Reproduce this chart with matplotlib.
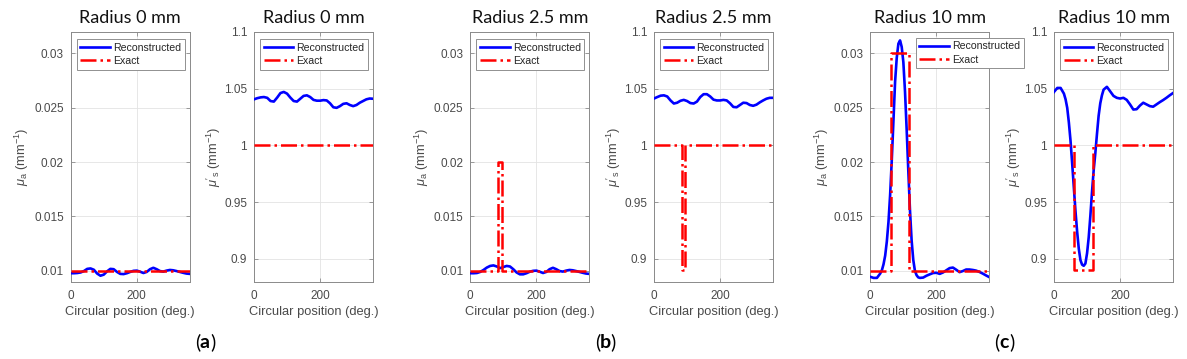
import matplotlib
matplotlib.use("Agg")
import matplotlib.pyplot as plt

plt.rcParams["mathtext.fontset"] = "custom"
plt.rcParams["mathtext.rm"] = "Liberation Sans"
plt.rcParams["mathtext.it"] = "Liberation Sans:italic"
plt.rcParams["mathtext.bf"] = "Liberation Sans:bold"

# ---------------- data ----------------
deg_coarse = list(range(0, 361, 10))
deg_fine = [0, 10, 20] + list(range(30, 151, 5)) + list(range(160, 361, 10))

# (a) radius 0 mm
mua_rec_a = [0.00978, 0.00978, 0.00980, 0.00985, 0.00998, 0.01018, 0.01022, 0.01010, 0.00975, 0.00955,
             0.00965, 0.00995, 0.01018, 0.01015, 0.00990, 0.00972, 0.00970, 0.00978, 0.00990, 0.01000,
             0.01002, 0.00992, 0.00980, 0.00990, 0.01015, 0.01028, 0.01015, 0.00998, 0.00993, 0.01002,
             0.01008, 0.01005, 0.00998, 0.00990, 0.00982, 0.00975, 0.00972]
mus_rec_a = [1.0405, 1.0415, 1.0422, 1.0425, 1.0418, 1.0390, 1.0385, 1.0420, 1.0460, 1.0470,
             1.0455, 1.0420, 1.0390, 1.0385, 1.0410, 1.0435, 1.0440, 1.0425, 1.0400, 1.0393,
             1.0393, 1.0398, 1.0395, 1.0370, 1.0335, 1.0330, 1.0345, 1.0365, 1.0370, 1.0355,
             1.0345, 1.0355, 1.0375, 1.0390, 1.0405, 1.0412, 1.0410]
exact_x_a = [0, 360]
mua_exact_a = [0.01, 0.01]
mus_exact_a = [1.0, 1.0]

# (b) radius 2.5 mm
mua_rec_b = [0.00978, 0.00978, 0.00980, 0.00990, 0.01008, 0.01030, 0.01045, 0.01050, 0.01040, 0.01025,
             0.01035, 0.01045, 0.01040, 0.01015, 0.00985, 0.00968, 0.00968, 0.00978, 0.00992, 0.01000,
             0.01002, 0.00992, 0.00980, 0.00990, 0.01015, 0.01028, 0.01015, 0.00998, 0.00993, 0.01002,
             0.01008, 0.01005, 0.00998, 0.00990, 0.00982, 0.00975, 0.00972]
mus_rec_b = [1.0412, 1.0425, 1.0437, 1.0440, 1.0430, 1.0395, 1.0368, 1.0375, 1.0392, 1.0400,
             1.0390, 1.0372, 1.0368, 1.0385, 1.0425, 1.0450, 1.0450, 1.0430, 1.0402, 1.0395,
             1.0395, 1.0400, 1.0395, 1.0370, 1.0338, 1.0335, 1.0355, 1.0375, 1.0372, 1.0355,
             1.0348, 1.0358, 1.0378, 1.0395, 1.0410, 1.0418, 1.0418]
exact_x_b = [0, 85, 85, 95, 95, 360]
mua_exact_b = [0.01, 0.01, 0.02, 0.02, 0.01, 0.01]
mus_exact_b = [1.0, 1.0, 0.89, 0.89, 1.0, 1.0]

# (c) radius 10 mm
mua_rec_c = [0.00945, 0.00935, 0.00935,
             0.00975, 0.01005, 0.01060, 0.01140, 0.01270, 0.01450, 0.01700, 0.02020, 0.02380, 0.02740,
             0.02960, 0.03090, 0.03120, 0.03060, 0.02920, 0.02650, 0.02300, 0.01920, 0.01560, 0.01280,
             0.01100, 0.01000, 0.00960, 0.00940, 0.00935,
             0.00938, 0.00955, 0.00968, 0.00980, 0.00982, 0.00972, 0.00985, 0.01005, 0.01025, 0.01030,
             0.01010, 0.00988, 0.00998, 0.01012, 0.01012, 0.01008, 0.01002, 0.00990, 0.00975, 0.00958,
             0.00942]
mus_rec_c = [1.0470, 1.0505, 1.0505,
             1.0455, 1.0405, 1.0330, 1.0200, 1.0040, 0.9840, 0.9630, 0.9420, 0.9240, 0.9090,
             0.8990, 0.8950, 0.8940, 0.8960, 0.9050, 0.9190, 0.9380, 0.9590, 0.9780, 0.9930,
             1.0100, 1.0260, 1.0370, 1.0440, 1.0490,
             1.0515, 1.0475, 1.0435, 1.0418, 1.0412, 1.0418, 1.0400, 1.0360, 1.0315, 1.0318,
             1.0350, 1.0375, 1.0360, 1.0345, 1.0340, 1.0360, 1.0380, 1.0398, 1.0418, 1.0440,
             1.0460]
exact_x_c = [0, 62, 62, 117, 117, 360]
mua_exact_c = [0.01, 0.01, 0.03, 0.03, 0.01, 0.01]
mus_exact_c = [1.0, 1.0, 0.89, 0.89, 1.0, 1.0]

titles = ["Radius 0 mm", "Radius 0 mm", "Radius 2.5 mm", "Radius 2.5 mm", "Radius 10 mm", "Radius 10 mm"]
mua_ticks = [0.01, 0.015, 0.02, 0.025, 0.03]
mua_ticklabels = ["0.01", "0.015", "0.02", "0.025", "0.03"]
mus_ticks = [0.9, 0.95, 1.0, 1.05, 1.1]
mus_ticklabels = ["0.9", "0.95", "1", "1.05", "1.1"]
x_ticks = [0, 200]
panel_letters = ["a", "b", "c"]

# ---------------- figure ----------------
W, H = 1187, 359
fig = plt.figure(figsize=(W / 100, H / 100), dpi=100)
fig.patch.set_facecolor("white")

lefts = [70.7, 254, 470.3, 654, 870.3, 1054]
ax_w, ax_top, ax_bot = 119, 31.7, 281.7
ax_h = ax_bot - ax_top

panels = [
    (deg_coarse, mua_rec_a, exact_x_a, mua_exact_a, "mua"),
    (deg_coarse, mus_rec_a, exact_x_a, mus_exact_a, "mus"),
    (deg_coarse, mua_rec_b, exact_x_b, mua_exact_b, "mua"),
    (deg_coarse, mus_rec_b, exact_x_b, mus_exact_b, "mus"),
    (deg_fine, mua_rec_c, exact_x_c, mua_exact_c, "mua"),
    (deg_fine, mus_rec_c, exact_x_c, mus_exact_c, "mus"),
]

tick_color = "#4a4a4a"
spine_color = "#8a8a8a"
grid_color = "#e3e3e3"
label_font = "Liberation Sans"
title_font = "Lato"

for i, (xr, yr, xe, ye, kind) in enumerate(panels):
    l = lefts[i]
    ax = fig.add_axes([l / W, (H - ax_bot) / H, ax_w / W, ax_h / H])
    ax.plot(xr, yr, color="#0000ff", lw=1.9, label="Reconstructed", zorder=3)
    ax.plot(xe, ye, color="#ff0000", lw=1.8, ls="-.", label="Exact", zorder=4)
    ax.set_xlim(0, 360)
    ax.set_xticks(x_ticks)
    if kind == "mua":
        ax.set_ylim(0.009, 0.032)
        ax.set_yticks(mua_ticks)
        ax.set_yticklabels(mua_ticklabels)
        ylab = r"$\mu_{\mathrm{a}}$ (mm$^{-1}$)"
        ylab_x = -48.5 / ax_w
    else:
        ax.set_ylim(0.88, 1.1)
        ax.set_yticks(mus_ticks)
        ax.set_yticklabels(mus_ticklabels)
        ylab = r"$\mu'_{\mathrm{s}}$ (mm$^{-1}$)"
        ylab_x = -40.5 / ax_w
    ax.grid(True, color=grid_color, lw=0.6, zorder=0)
    ax.set_axisbelow(True)
    for s in ax.spines.values():
        s.set_color(spine_color)
        s.set_linewidth(0.7)
    ax.tick_params(direction="in", length=3, width=0.6, color=spine_color,
                   top=True, right=True, labelsize=8.5, labelcolor=tick_color, pad=5)
    for t in ax.get_xticklabels() + ax.get_yticklabels():
        t.set_fontfamily(label_font)
        t.set_fontweight("normal")
    ax.tick_params(axis="x", pad=6)
    ax.text(0.5, -(311.7 - ax_bot) / ax_h, "Circular position (deg.)",
            transform=ax.transAxes, ha="center", va="center", fontsize=9.3,
            color=tick_color, family=label_font, fontweight="normal")
    ax.text(ylab_x, 0.5, ylab, transform=ax.transAxes, rotation=90, ha="center",
            va="center", fontsize=9.3, color=tick_color, family=label_font, fontweight="normal")
    ax.text(0.5, 1 + (ax_top - 17.7) / ax_h, titles[i], transform=ax.transAxes,
            ha="center", va="center", fontsize=13, color="#111111", family=title_font,
            fontweight="normal")
    if i == 4:
        anchor = ((915.7 - l) / ax_w, (ax_bot - 37.7) / ax_h)
    else:
        anchor = (6.0 / ax_w, (ax_bot - 39.3) / ax_h)
    leg = ax.legend(loc="upper left", bbox_to_anchor=anchor, prop={"family": label_font, "size": 7.6},
                    frameon=True, fancybox=False, framealpha=1, edgecolor="#909090",
                    handlelength=2.8, handletextpad=0.3, labelspacing=0.3, borderpad=0.35,
                    borderaxespad=0)
    leg.get_frame().set_linewidth(0.7)
    for t in leg.get_texts():
        t.set_color("#262626")
    leg.set_zorder(10)
    if i == 4:
        leg.set_clip_on(False)

# panel letters
for cx, letter in zip([205, 605, 1004], panel_letters):
    y = 1 - 342 / H
    fig.text(cx / W, y, letter, ha="center", va="center", fontsize=14, fontweight="bold",
             family=title_font)
    fig.text((cx - 5) / W, y, "(", ha="right", va="center", fontsize=14, family=title_font)
    fig.text((cx + 5) / W, y, ")", ha="left", va="center", fontsize=14, family=title_font)

fig.savefig("out.png", dpi=100, facecolor="white")
